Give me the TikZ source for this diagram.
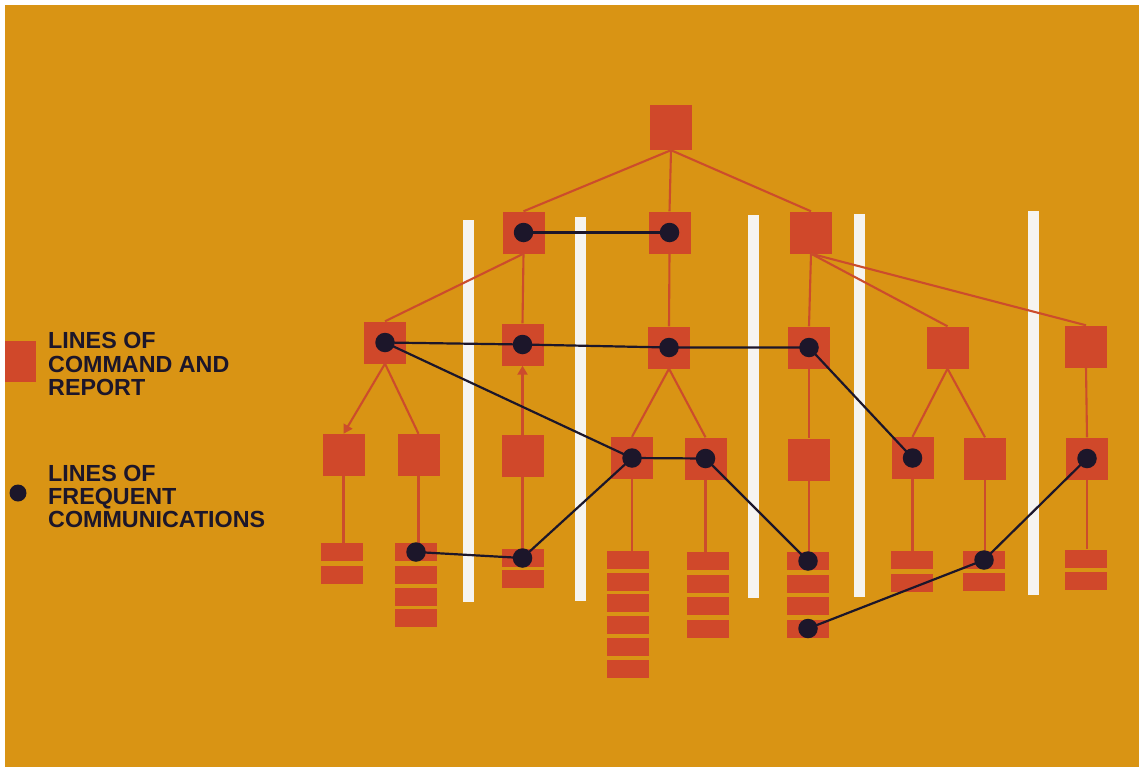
\documentclass[tikz,border=0pt]{standalone}
\usepackage{fontspec}
\setmainfont{Liberation Sans}
\usetikzlibrary{arrows.meta}
\definecolor{bgorange}{RGB}{217,148,20}
\definecolor{boxred}{RGB}{208,72,42}
\definecolor{linered}{RGB}{204,76,44}
\definecolor{dotdark}{RGB}{28,22,42}
\definecolor{barwhite}{RGB}{246,244,240}
\tikzset{
  box/.style={rectangle, fill=boxred, inner sep=0pt, minimum width=42pt, minimum height=42pt},
  slab/.style={rectangle, fill=boxred, inner sep=0pt, minimum width=42pt, minimum height=18pt},
  bar/.style={fill=barwhite},
  cmd/.style={draw=linered, line width=2.1pt},
  cmdarrow/.style={cmd, -{Triangle[length=9pt,width=10pt]}},
  comm/.style={draw=dotdark, line width=2.2pt},
  dot/.style={circle, fill=dotdark, inner sep=0pt, minimum size=19.5pt},
  legend/.style={anchor=base west, inner sep=0pt, text=dotdark, font=\bfseries\fontsize{23.3}{23}\selectfont}
}
\begin{document}
\begin{tikzpicture}[x=1pt,y=-1pt]
\useasboundingbox (0,0) rectangle (1140,768);
\fill[white] (0,0) rectangle (1140,768);
\fill[bgorange] (5,5) rectangle (1139,767);
% white separators
\fill[bar] (463,220) rectangle (474,602);
\fill[bar] (575,217) rectangle (586,601);
\fill[bar] (748,215) rectangle (759,598);
\fill[bar] (854,214) rectangle (865,597);
\fill[bar] (1028,211) rectangle (1039,595);
% legend
\node[rectangle, fill=boxred, inner sep=0pt, minimum width=31pt, minimum height=41pt] (legsq) at (20.5,361.5) {};
\node[legend] (lt1) at (48,348) {LINES OF};
\node[legend] (lt2) at (48,372) {COMMAND AND};
\node[legend] (lt3) at (48,395) {REPORT};
\node[dot, minimum size=17pt] (legdot) at (18,493) {};
\node[legend] (lt4) at (48,481) {LINES OF};
\node[legend] (lt5) at (48,504) {FREQUENT};
\node[legend] (lt6) at (48,527) {COMMUNICATIONS};
% boxes
\node[box, minimum height=45pt] (T) at (671,127.5) {};
\node[box] (A) at (523.5,232.5) {};
\node[box] (B) at (669.5,232.5) {};
\node[box] (C) at (811,232.5) {};
\node[box] (D) at (385,342.5) {};
\node[box] (E) at (522.5,344.5) {};
\node[box] (F) at (669,347.5) {};
\node[box] (G) at (809,347.5) {};
\node[box] (H) at (947.5,347.5) {};
\node[box] (I) at (1086,346.5) {};
\node[box] (J) at (343.5,455) {};
\node[box] (K) at (418.5,455) {};
\node[box] (L) at (522.5,456) {};
\node[box] (M) at (632,458) {};
\node[box] (N) at (705.5,458.5) {};
\node[box] (O) at (809,459.5) {};
\node[box] (P) at (912.5,458) {};
\node[box] (Q) at (985,458.5) {};
\node[box] (R) at (1087,458.5) {};
% stacks
\node[slab] (J1) at (342,552) {};
\node[slab] (J2) at (342,575) {};
\node[slab] (K1) at (416,552) {};
\node[slab] (K2) at (416,575) {};
\node[slab] (K3) at (416,596.5) {};
\node[slab] (K4) at (416,617.5) {};
\node[slab] (L1) at (522.5,558) {};
\node[slab] (L2) at (522.5,579) {};
\node[slab] (M1) at (627.5,559.7) {};
\node[slab] (M2) at (627.5,581.5) {};
\node[slab] (M3) at (627.5,603.3) {};
\node[slab] (M4) at (627.5,625.1) {};
\node[slab] (M5) at (627.5,646.9) {};
\node[slab] (M6) at (627.5,668.7) {};
\node[slab] (N1) at (708,561) {};
\node[slab] (N2) at (708,583.5) {};
\node[slab] (N3) at (708,606) {};
\node[slab] (N4) at (708,628.5) {};
\node[slab] (O1) at (808,561) {};
\node[slab] (O2) at (808,583.5) {};
\node[slab] (O3) at (808,606) {};
\node[slab] (O4) at (808,628.5) {};
\node[slab] (P1) at (911.5,560) {};
\node[slab] (P2) at (911.5,583) {};
\node[slab] (Q1) at (984,560) {};
\node[slab] (Q2) at (984,582) {};
\node[slab] (R1) at (1085.5,558.5) {};
\node[slab] (R2) at (1085.5,581) {};
% lines of command and report
\draw[cmd] (T.south) -- (A.north);
\draw[cmd] (T.south) -- (B.north);
\draw[cmd] (T.south) -- (C.north);
\draw[cmd] (A.south) -- (D.north);
\draw[cmd] (A.south) -- (E.north);
\draw[cmd] (B.south) -- (F.north);
\draw[cmd] (C.south) -- (G.north);
\draw[cmd] (C.south) -- (H.north);
\draw[cmd] (C.south) -- (I.north);
\draw[cmdarrow] (D.south) -- (J.north);
\draw[cmd] (D.south) -- (K.north);
\draw[cmdarrow] (L.north) -- (E.south);
\draw[cmd] (F.south) -- (M.north);
\draw[cmd] (F.south) -- (N.north);
\draw[cmd] (G.south) -- (O.north);
\draw[cmd] (H.south) -- (P.north);
\draw[cmd] (H.south) -- (Q.north);
\draw[cmd] (I.south) -- (R.north);
\draw[cmd] (J.south) -- (J.south |- J1.north);
\draw[cmd] (K.south) -- (K.south |- K1.north);
\draw[cmd] (L.south) -- (L.south |- L1.north);
\draw[cmd] (M.south) -- (M.south |- M1.north);
\draw[cmd] (N.south) -- (N.south |- N1.north);
\draw[cmd] (O.south) -- (O.south |- O1.north);
\draw[cmd] (P.south) -- (P.south |- P1.north);
\draw[cmd] (Q.south) -- (Q.south |- Q1.north);
\draw[cmd] (R.south) -- (R.south |- R1.north);
% lines of frequent communications
\draw[comm] (A.center) -- (B.center);
\draw[comm] (D.center) -- (E.center) -- (F.center) -- (G.center);
\draw[comm] (D.center) -- (M.center) -- (N.center);
\draw[comm] (M.center) -- (L1.center) -- (K1.center);
\draw[comm] (N.center) -- (O1.center);
\draw[comm] (G.center) -- (P.center);
\draw[comm] (O4.center) -- (Q1.center) -- (R.center);
% dots
\foreach \n in {A,B,D,E,F,G,M,N,P,R,L1,K1,O1,O4,Q1} {
  \node[dot] (dot\n) at (\n.center) {};
}
\end{tikzpicture}
\end{document}
